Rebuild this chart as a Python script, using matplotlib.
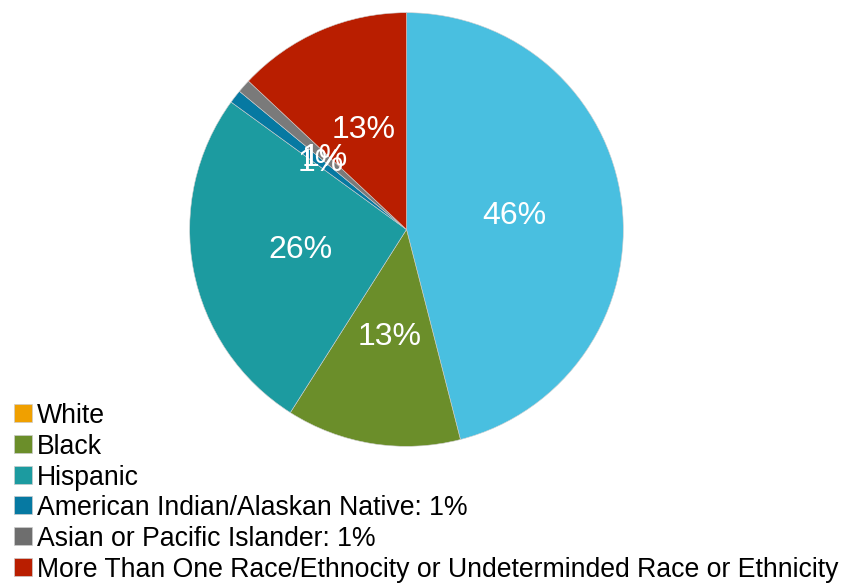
import matplotlib
matplotlib.use("Agg")
import matplotlib.pyplot as plt
from matplotlib.patches import Rectangle

plt.rcParams['font.family'] = ['Liberation Sans', 'DejaVu Sans']

categories = ["White", "Black", "Hispanic",
              "American Indian/Alaskan Native: 1%",
              "Asian or Pacific Islander: 1%",
              "More Than One Race/Ethnocity or Undeterminded Race or Ethnicity"]
values = [46, 13, 26, 1, 1, 13]
slice_colors = ["#49BFE0", "#6B8E2A", "#1C9BA0", "#0679A2", "#7A7A7A", "#B91E00"]
legend_colors = ["#F0A000", "#6B8E2A", "#1C9BA0", "#0679A2", "#6E6E6E", "#B91E00"]

W, H = 841, 583
fig = plt.figure(figsize=(W / 100, H / 100), dpi=100)

cx, cy, r = 406.5, 229.5, 219
ax = fig.add_axes([(cx - r) / W, (H - cy - r) / H, 2 * r / W, 2 * r / H])
wedges, texts, autotexts = ax.pie(
    values, colors=slice_colors, startangle=90, counterclock=False,
    autopct='%1.0f%%', pctdistance=0.5, radius=1,
    wedgeprops=dict(linewidth=0.4, edgecolor="#d0d0d0"),
    textprops=dict(color="white", fontsize=23))
ax.set_xlim(-1.01, 1.01)
ax.set_ylim(-1.01, 1.01)
ax.set_aspect('equal')
ax.axis('off')

# legend (manual)
row0 = 413
step = 30.8
sw = 18
for i, (lab, col) in enumerate(zip(categories, legend_colors)):
    yc = row0 + i * step
    fig.patches.append(Rectangle((14 / W, (H - yc - sw / 2) / H), sw / W, sw / H,
                                 transform=fig.transFigure, facecolor=col,
                                 edgecolor="#cccccc", linewidth=0.5))
    fig.text(37 / W, (H - yc) / H, lab, fontsize=19.2, color="black",
             va='center_baseline', ha='left')

fig.savefig("out.png", dpi=100)
